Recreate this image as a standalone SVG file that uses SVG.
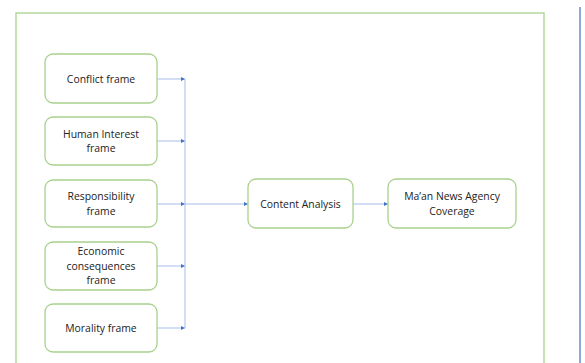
<svg xmlns="http://www.w3.org/2000/svg" width="585" height="363" viewBox="0 0 585 363">
<defs>
<style>
.box{fill:#fff;stroke:#a9d18e;stroke-width:1.3}
.t{font-family:"Open Sans","Liberation Sans",sans-serif;font-size:10.4px;fill:#222;text-anchor:middle}
.c{stroke:#a4bde8;stroke-width:1;fill:none}
</style>
<marker id="a" viewBox="0 0 6 6" refX="6" refY="3" markerWidth="4" markerHeight="4" orient="auto"><path d="M0,0L6,3L0,6z" fill="#4472c4"/></marker>
</defs>
<rect width="585" height="363" fill="#fff"/>
<rect x="16" y="13" width="528" height="360" fill="none" stroke="#a9d18e" stroke-width="1.3"/>
<line x1="580" y1="7" x2="580" y2="363" stroke="#4472c4" stroke-width="1.2"/>
<g id="connectors">
<line class="c" x1="157" y1="79" x2="185" y2="79" marker-end="url(#a)"/>
<line class="c" x1="157" y1="141" x2="185" y2="141" marker-end="url(#a)"/>
<line class="c" x1="157" y1="204" x2="185" y2="204" marker-end="url(#a)"/>
<line class="c" x1="157" y1="266" x2="185" y2="266" marker-end="url(#a)"/>
<line class="c" x1="157" y1="328" x2="185" y2="328" marker-end="url(#a)"/>
<line class="c" x1="185" y1="79" x2="185" y2="328"/>
<line class="c" x1="185" y1="204" x2="248" y2="204" marker-end="url(#a)"/>
<line class="c" x1="353" y1="204" x2="388" y2="204" marker-end="url(#a)"/>
</g>
<g id="conflict"><rect class="box" x="45" y="54" width="112" height="49" rx="8"/><text class="t" x="101" y="82.5">Conflict frame</text></g>
<g id="human"><rect class="box" x="45" y="117" width="112" height="48" rx="8"/><text class="t" x="101" y="138">Human Interest</text><text class="t" x="101" y="152">frame</text></g>
<g id="responsibility"><rect class="box" x="45" y="180" width="112" height="47" rx="8"/><text class="t" x="101" y="200">Responsibility</text><text class="t" x="101" y="214.5">frame</text></g>
<g id="economic"><rect class="box" x="45" y="242" width="112" height="48" rx="8"/><text class="t" x="101" y="255">Economic</text><text class="t" x="101" y="269.5">consequences</text><text class="t" x="101" y="284">frame</text></g>
<g id="morality"><rect class="box" x="45" y="304" width="112" height="48" rx="8"/><text class="t" x="101" y="331.5">Morality frame</text></g>
<g id="content"><rect class="box" x="248" y="179" width="105" height="49" rx="8"/><text class="t" x="300.5" y="207.5">Content Analysis</text></g>
<g id="maan"><rect class="box" x="388" y="179" width="128" height="49" rx="8"/><text class="t" x="452" y="200">Ma’an News Agency</text><text class="t" x="452" y="214.5">Coverage</text></g>
</svg>
